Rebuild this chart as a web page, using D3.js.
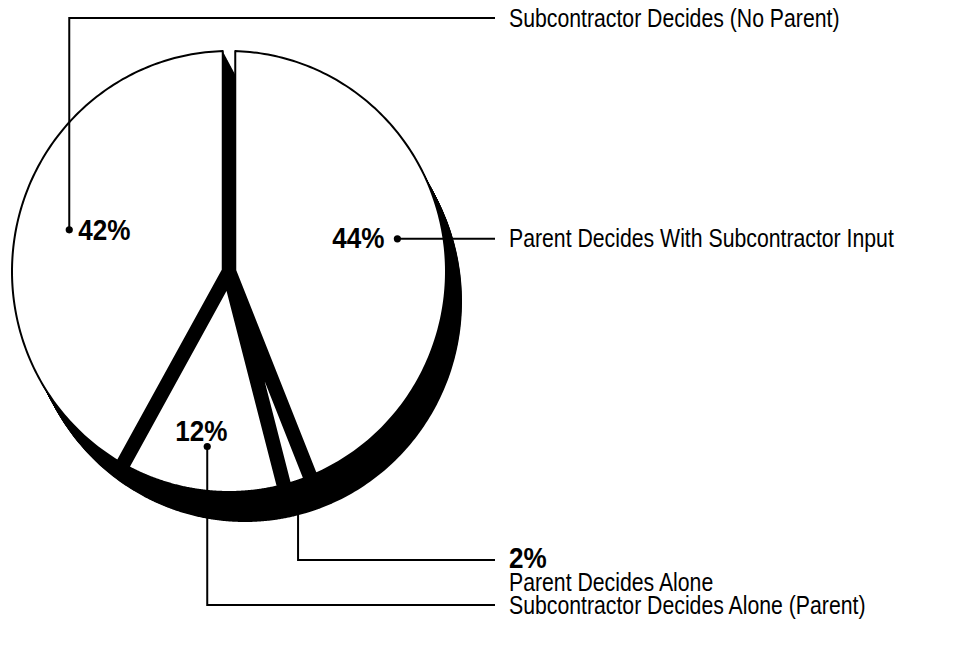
<!DOCTYPE html>
<html>
<head>
<meta charset="utf-8">
<script src="https://cdn.jsdelivr.net/npm/d3@7"></script>
<style>
  html, body { margin: 0; padding: 0; background: #fff; }
  svg { display: block; }
  text { font-family: "Liberation Sans", Arial, Helvetica, sans-serif; fill: #000; }
</style>
</head>
<body>
<div id="chart"></div>
<script>
// slices run clockwise from 12 o'clock
const categories = [
  "Parent Decides With Subcontractor Input",
  "Parent Decides Alone",
  "Subcontractor Decides Alone (Parent)",
  "Subcontractor Decides (No Parent)"
];
const values = [44, 2, 12, 42];
const valueLabels = ["44%", "2%", "12%", "42%"];

const width = 966, height = 647;
const cx = 229, cy = 271.5, rx = 217, ry = 220.5;
const gap = 12.5;                 // cut between the slices
const depth = { x: 16, y: 30 };   // extrusion of the pie body
const steps = 40;

const svg = d3.select("#chart").append("svg")
    .attr("width", width)
    .attr("height", height);

const arcs = d3.pie().sort(null).value(d => d)(values);

// screen direction for a pie angle (0 = up, clockwise)
const dir = a => [Math.sin(a), -Math.cos(a)];

// where the ray p + t*u leaves the ellipse
function hitEllipse(p, u) {
    const px = (p[0] - cx) / rx, py = (p[1] - cy) / ry;
    const ux = u[0] / rx, uy = u[1] / ry;
    const A = ux * ux + uy * uy, B = 2 * (px * ux + py * uy), C = px * px + py * py - 1;
    const t = (-B + Math.sqrt(B * B - 4 * A * C)) / (2 * A);
    return [p[0] + t * u[0], p[1] + t * u[1]];
}

const ellAngle = p => Math.atan2((p[0] - cx) / rx, -(p[1] - cy) / ry);
const ellPoint = f => [cx + rx * Math.sin(f), cy - ry * Math.cos(f)];

// top face of a slice: the sector with both cut edges moved inwards by gap/2
function slicePoints(d) {
    const h = gap / 2;
    const a0 = d.startAngle, a1 = d.endAngle;
    const half = (a1 - a0) / 2;
    const bis = dir(a0 + half);
    const k = h / Math.sin(half);
    const apex = [cx + bis[0] * k, cy + bis[1] * k];
    const n0 = dir(a0 + Math.PI / 2), n1 = dir(a1 - Math.PI / 2);
    const p0 = hitEllipse([cx + n0[0] * h, cy + n0[1] * h], dir(a0));
    const p1 = hitEllipse([cx + n1[0] * h, cy + n1[1] * h], dir(a1));
    let f0 = ellAngle(p0), f1 = ellAngle(p1);
    while (f1 < f0) f1 += 2 * Math.PI;
    const pts = [apex, p0];
    const n = 160;
    for (let i = 1; i < n; i++) pts.push(ellPoint(f0 + (f1 - f0) * i / n));
    pts.push(p1);
    return pts;
}

// cut strip between two slices, kept inside the top ellipse
function gapPoints(a) {
    const u = dir(a), n = dir(a + Math.PI / 2);
    const h = gap / 2 + 0.5;
    const s0 = [cx - u[0] * gap + n[0] * h, cy - u[1] * gap + n[1] * h];
    const s1 = [cx - u[0] * gap - n[0] * h, cy - u[1] * gap - n[1] * h];
    return [s0, hitEllipse(s0, u), hitEllipse(s1, u), s1];
}

const line = d3.line().curve(d3.curveLinearClosed);

const faces = arcs.map(slicePoints);
// the cuts facing the viewer (lower half) show the body inside them
const cuts = arcs.map(d => d.endAngle)
    .filter(a => Math.cos(a) < 0)
    .map(gapPoints);

// body: faces and open cuts dragged along the extrusion
const body = svg.append("g").attr("fill", "#000");
for (let s = 0; s <= steps; s++) {
    const t = s / steps;
    const g = body.append("g")
        .attr("transform", `translate(${depth.x * t},${depth.y * t})`);
    faces.concat(cuts).forEach(p => g.append("path").attr("d", line(p)));
}

// top faces
svg.append("g")
    .selectAll("path")
    .data(faces)
    .join("path")
    .attr("d", d => line(d))
    .attr("fill", "#fff")
    .attr("stroke", "#000")
    .attr("stroke-width", 2)
    .attr("stroke-linejoin", "round");

// label layout
const labelX = 509, lineEndX = 495;
const layout = [
    { frac: 0.79, dot: true },   // 44%
    { frac: 1.0, dot: false },   // 2%
    { frac: 0.80, dot: true },   // 12%
    { frac: 0.76, dot: true }    // 42%
];
const anchors = arcs.map((d, i) => {
    const u = dir((d.startAngle + d.endAngle) / 2);
    const f = layout[i].frac;
    return [cx + u[0] * rx * f, cy + u[1] * ry * f];
});

const leaders = [
    a => [a, [lineEndX, a[1]]],
    a => [[a[0] + 2, a[1]], [a[0] + 2, 560], [lineEndX, 560]],
    a => [a, [a[0], 605], [lineEndX, 605]],
    a => [a, [a[0], 18], [lineEndX, 18]]
];
const nameY = [null, 591, 614, 27];

const lead = svg.append("g");
anchors.forEach((a, i) => {
    const pts = leaders[i](a);
    lead.append("path")
        .attr("d", d3.line()(pts))
        .attr("fill", "none")
        .attr("stroke", "#000")
        .attr("stroke-width", 2);
    if (layout[i].dot) {
        lead.append("circle")
            .attr("cx", a[0]).attr("cy", a[1]).attr("r", 3.6)
            .attr("fill", "#000");
    }
});

function addText(x, y, str, size, weight, anchor, sx) {
    svg.append("g")
        .attr("transform", `translate(${x},${y}) scale(${sx},1)`)
        .append("text")
        .attr("text-anchor", anchor)
        .style("font-size", size + "px")
        .style("font-weight", weight)
        .text(str);
}

// percentages
const pctPos = [
    a => [a[0] - 13, a[1] + 9, "end"],
    a => [labelX, 568, "start"],
    a => [a[0] - 6, a[1] - 6, "middle"],
    a => [a[0] + 9, a[1] + 10, "start"]
];
anchors.forEach((a, i) => {
    const [x, y, anc] = pctPos[i](a);
    addText(x, y, valueLabels[i], 29, "bold", anc, 0.9);
});

// category names
categories.forEach((c, i) => {
    const y = nameY[i] === null ? anchors[i][1] + 8 : nameY[i];
    addText(labelX, y, c, 25, "normal", "start", 0.85);
});
</script>
</body>
</html>
